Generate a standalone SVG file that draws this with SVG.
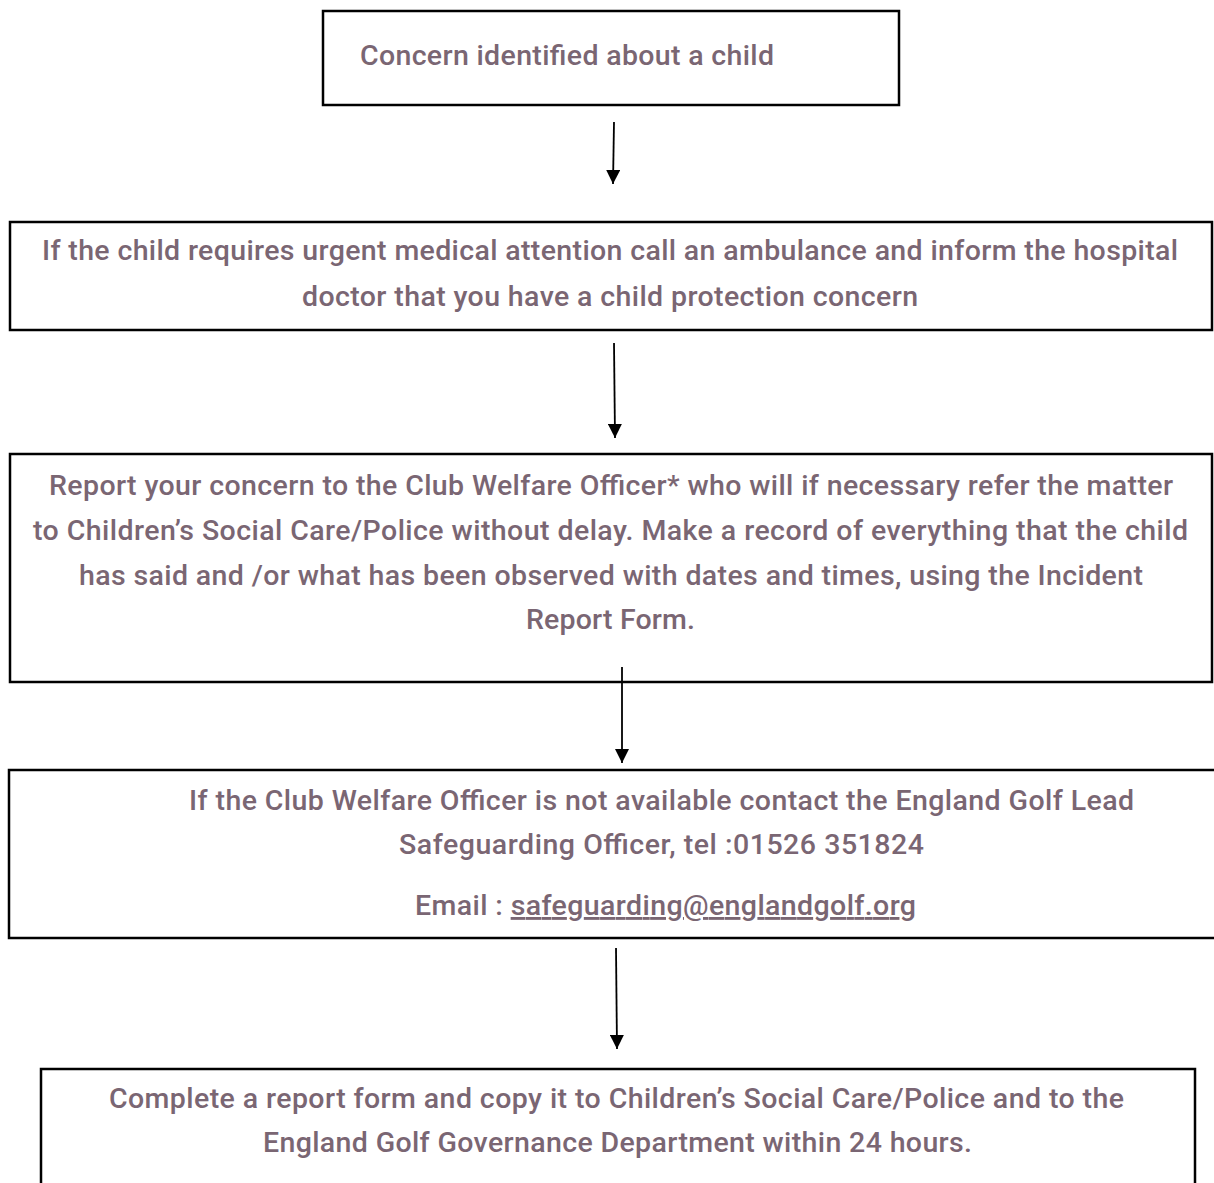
<svg xmlns="http://www.w3.org/2000/svg" width="1214" height="1183" viewBox="0 0 1214 1183">
<style>
.box{fill:#fff;stroke:#000;stroke-width:2.5}
.t{font-family:Roboto,"Liberation Sans",sans-serif;font-size:28.5px;font-weight:500;fill:#7a6673}
.c{text-anchor:middle}
</style>
<defs>
<marker id="ah2" viewBox="0 0 14 14" refX="14" refY="7" markerWidth="16" markerHeight="14" markerUnits="userSpaceOnUse" orient="auto">
<path d="M0,0 L14,7 L0,14 z" fill="#000"/>
</marker>
</defs>
<rect width="1214" height="1183" fill="#fff"/>
<g id="node1">
<rect class="box" x="323" y="11" width="576" height="94"/>
<text class="t" x="360" y="65" textLength="414" lengthAdjust="spacing">Concern identified about a child</text>
</g>
<g id="node2">
<rect class="box" x="10" y="222" width="1202" height="108"/>
<text class="t c" x="610" y="260" textLength="1136" lengthAdjust="spacing">If the child requires urgent medical attention call an ambulance and inform the hospital</text>
<text class="t c" x="610" y="306" textLength="616" lengthAdjust="spacing">doctor that you have a child protection concern</text>
</g>
<g id="node3">
<rect class="box" x="10" y="454" width="1202" height="228"/>
<text class="t c" x="611" y="495" textLength="1124" lengthAdjust="spacing">Report your concern to the Club Welfare Officer* who will if necessary refer the matter</text>
<text class="t c" x="610.5" y="540" textLength="1155" lengthAdjust="spacing">to Children’s Social Care/Police without delay. Make a record of everything that the child</text>
<text class="t c" x="611" y="585" textLength="1064" lengthAdjust="spacing">has said and /or what has been observed with dates and times, using the Incident</text>
<text class="t c" x="610.5" y="629" textLength="169" lengthAdjust="spacing">Report Form.</text>
</g>
<g id="node4">
<rect class="box" x="9" y="770" width="1220" height="168"/>
<text class="t c" x="661.5" y="810" textLength="945" lengthAdjust="spacing">If the Club Welfare Officer is not available contact the England Golf Lead</text>
<text class="t c" x="661.5" y="854" textLength="525" lengthAdjust="spacing">Safeguarding Officer, tel :01526 351824</text>
<text class="t c" x="665.5" y="915" textLength="501" lengthAdjust="spacing">Email : <tspan text-decoration="underline">safeguarding@englandgolf.org</tspan></text>
</g>
<g id="node5">
<rect class="box" x="41" y="1069" width="1154" height="130"/>
<text class="t c" x="616.5" y="1108" textLength="1015" lengthAdjust="spacing">Complete a report form and copy it to Children’s Social Care/Police and to the</text>
<text class="t c" x="617.5" y="1152" textLength="709" lengthAdjust="spacing">England Golf Governance Department within 24 hours.</text>
</g>
<g id="connectors">
<line x1="614" y1="122" x2="613" y2="184" stroke="#000" stroke-width="1.8" marker-end="url(#ah2)"/>
<line x1="614" y1="343" x2="615" y2="438" stroke="#000" stroke-width="1.8" marker-end="url(#ah2)"/>
<line x1="622" y1="667" x2="622" y2="763" stroke="#000" stroke-width="1.8" marker-end="url(#ah2)"/>
<line x1="616" y1="948" x2="617" y2="1049" stroke="#000" stroke-width="1.8" marker-end="url(#ah2)"/>
</g>
</svg>
